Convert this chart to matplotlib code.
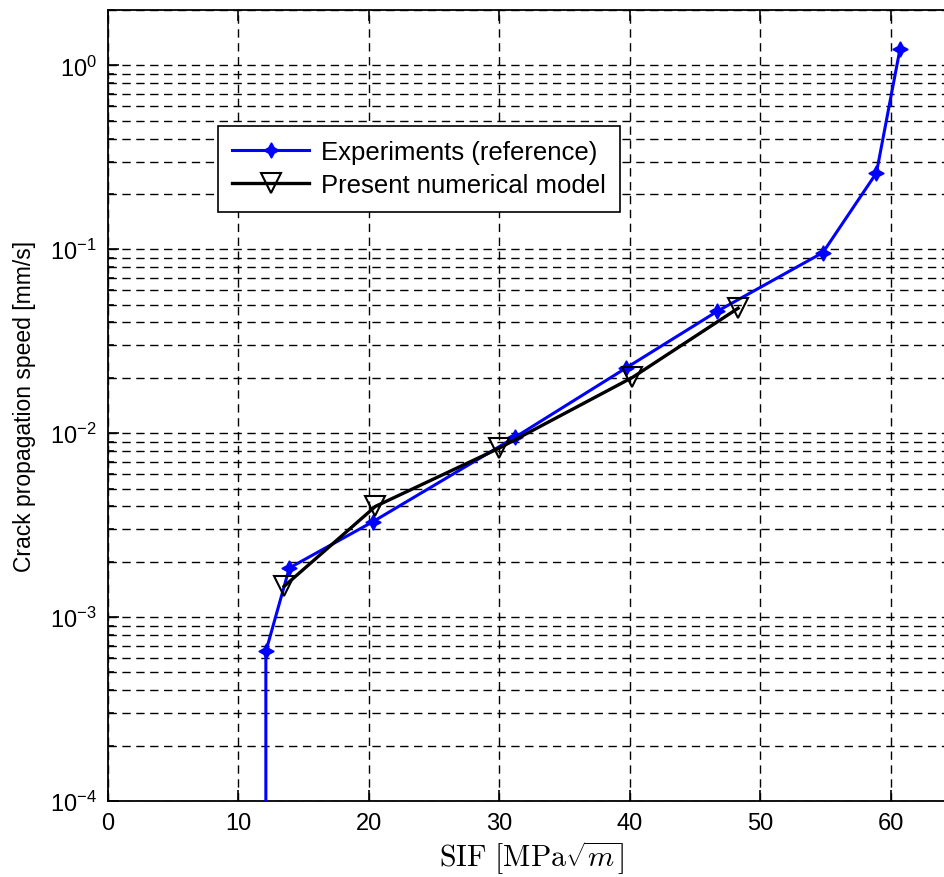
import numpy as np
import matplotlib
matplotlib.use("Agg")
import matplotlib.pyplot as plt
from matplotlib.ticker import LogLocator, FixedLocator, NullFormatter

plt.rcParams['font.family'] = ['Liberation Sans', 'DejaVu Sans']
plt.rcParams['mathtext.fontset'] = 'cm'

# --- Data ---
sif_exp = [12.1, 12.1, 13.9, 20.3, 31.2, 39.7, 46.7, 54.8, 58.9, 60.7]
speed_exp = [1e-5, 6.5e-4, 1.85e-3, 3.3e-3, 9.5e-3, 2.26e-2, 4.6e-2, 9.6e-2, 0.26, 1.22]

sif_model = [13.5, 20.5, 30.0, 40.2, 48.3]
speed_model = [1.47e-3, 4.0e-3, 8.3e-3, 2.01e-2, 4.78e-2]

x_ticks = [0, 10, 20, 30, 40, 50, 60]

fig = plt.figure(figsize=(9.44, 8.78), dpi=100)
# the right spine sits just past the picture's edge, as in the cropped original
ax = fig.add_axes([108 / 944, 76 / 878, 848 / 944, 791 / 878])

ax.plot(sif_exp, speed_exp, color='blue', linewidth=2.2, marker=(4, 1, 0),
        markersize=11, label='Experiments (reference)', zorder=3)
ax.plot(sif_model, speed_model, color='black', linewidth=2.4, marker='v',
        markersize=14, markerfacecolor='none', markeredgewidth=1.5,
        label='Present numerical model', zorder=4)

ax.set_yscale('log')
ax.set_xlim(0, 65)
ax.set_ylim(1e-4, 2)
ax.xaxis.set_major_locator(FixedLocator(x_ticks))
ax.yaxis.set_major_locator(LogLocator(base=10, numticks=10))
ax.yaxis.set_minor_locator(LogLocator(base=10, subs=np.arange(2, 10), numticks=20))
ax.yaxis.set_minor_formatter(NullFormatter())

ax.grid(True, which='major', axis='both', linestyle=(0, (6, 4)), color='black', linewidth=1.0)
ax.grid(True, which='minor', axis='y', linestyle=(0, (6, 4)), color='black', linewidth=1.0)

ax.tick_params(which='both', direction='in', top=True, right=True, labelsize=17,
               colors='black', width=1.2)
ax.tick_params(which='major', length=8, pad=8)
ax.tick_params(which='minor', length=4)
for s in ax.spines.values():
    s.set_linewidth(1.3)

ax.set_xlabel(r'$\mathrm{SIF}\ [\mathrm{MPa}\sqrt{m}]$', fontsize=21.5, labelpad=3)
ax.set_ylabel('Crack propagation speed [mm/s]', fontsize=16.5, labelpad=10)

leg = ax.legend(loc='upper left', bbox_to_anchor=(110 / 848, 0.853), fontsize=18.5,
                handlelength=3.0, fancybox=False, framealpha=1, edgecolor='black',
                borderpad=0.55, labelspacing=0.35, handletextpad=0.45, borderaxespad=0)
leg.get_frame().set_linewidth(1.2)

fig.savefig('out.png', dpi=100)
